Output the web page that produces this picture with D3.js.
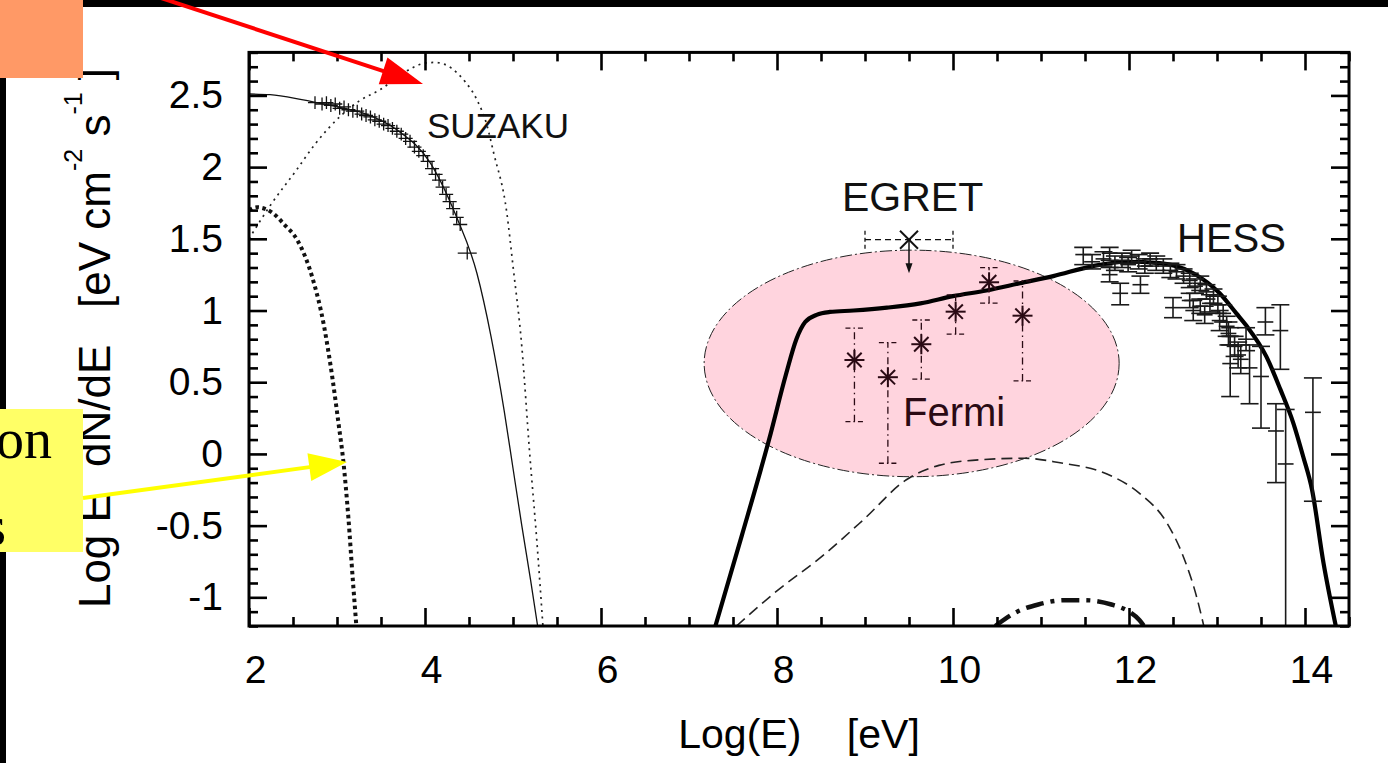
<!DOCTYPE html>
<html><head><meta charset="utf-8">
<script src="https://cdn.jsdelivr.net/npm/d3@7"></script>
<style>
body{margin:0;background:#fff;}
svg{display:block;}
</style>
</head><body>
<svg id="c" width="1388" height="763"></svg>
<script>
// ---------------- DATA ----------------
const xMajorTicks = [2, 4, 6, 8, 10, 12, 14];
const xTickLabels = ["2", "4", "6", "8", "10", "12", "14"];
const yMajorTicks = [-1, -0.5, 0, 0.5, 1, 1.5, 2, 2.5];
const yTickLabels = ["-1", "-0.5", "0", "0.5", "1", "1.5", "2", "2.5"];

// synchrotron model (thin solid)
const synchX = [2.0, 2.24, 2.6, 2.92, 3.3, 3.68, 4.06, 4.36, 4.59, 4.75, 4.9, 5.0, 5.1, 5.2, 5.28];
const synchY = [2.51, 2.505, 2.47, 2.43, 2.376, 2.26, 2.03, 1.65, 1.26, 0.82, 0.3, -0.1, -0.5, -0.88, -1.2];

// thin dotted model
const dotX = [2.0, 2.25, 2.54, 2.75, 3.03, 3.25, 3.49, 3.79, 4.0, 4.12, 4.3, 4.45, 4.59, 4.7, 4.78, 4.93, 5.0, 5.1, 5.19, 5.27, 5.34];
const dotY = [1.5, 1.74, 1.98, 2.16, 2.35, 2.46, 2.54, 2.67, 2.725, 2.73, 2.69, 2.6, 2.47, 2.3, 2.1, 1.68, 1.31, 0.75, 0.0, -0.6, -1.2];

// heavy dotted model
const heavyDotX = [2.0, 2.09, 2.27, 2.4, 2.55, 2.72, 2.85, 2.95, 3.02, 3.07, 3.13, 3.18, 3.22];
const heavyDotY = [1.70, 1.72, 1.68, 1.6, 1.49, 1.23, 0.9, 0.52, 0.2, -0.04, -0.45, -0.88, -1.2];

// total gamma model (thick solid)
const totalX = [7.30, 7.6, 7.91, 8.1, 8.22, 8.32, 8.45, 8.6, 8.87, 9.25, 9.63, 10.0, 10.38, 10.76, 11.14, 11.59, 11.97, 12.35, 12.73, 13.03, 13.22, 13.34, 13.56, 13.72, 13.87, 13.98, 14.08, 14.21, 14.35];
const totalY = [-1.2, -0.57, 0.1, 0.55, 0.8, 0.92, 0.97, 0.99, 1.0, 1.02, 1.05, 1.10, 1.14, 1.19, 1.24, 1.31, 1.34, 1.33, 1.26, 1.12, 0.98, 0.89, 0.68, 0.45, 0.21, -0.02, -0.25, -0.76, -1.2];

// dashed model
const dashX = [7.54, 8.01, 8.5, 8.98, 9.47, 9.84, 10.32, 10.81, 11.2, 11.75, 12.13, 12.43, 12.62, 12.77, 12.85];
const dashY = [-1.2, -0.95, -0.72, -0.46, -0.18, -0.08, -0.04, -0.03, -0.06, -0.14, -0.28, -0.48, -0.72, -1.0, -1.2];

// dash-dot model
const dashDotX = [10.48, 10.73, 10.97, 11.26, 11.5, 11.8, 12.0, 12.12, 12.17];
const dashDotY = [-1.2, -1.1, -1.05, -1.02, -1.02, -1.05, -1.1, -1.16, -1.2];

// SUZAKU data
const suzakuX = [2.75, 2.83, 2.88, 2.93, 2.98, 3.03, 3.08, 3.13, 3.18, 3.23, 3.28, 3.33, 3.38, 3.43, 3.48, 3.53, 3.58, 3.63, 3.68, 3.73, 3.78, 3.83, 3.88, 3.93, 3.98, 4.03, 4.08, 4.12, 4.16, 4.2, 4.24, 4.28, 4.32, 4.36, 4.40, 4.48];
const suzakuY = [2.45, 2.44, 2.45, 2.43, 2.44, 2.41, 2.42, 2.40, 2.39, 2.39, 2.37, 2.36, 2.35, 2.33, 2.32, 2.30, 2.29, 2.27, 2.25, 2.23, 2.20, 2.18, 2.14, 2.11, 2.08, 2.04, 1.99, 1.95, 1.91, 1.86, 1.81, 1.76, 1.71, 1.65, 1.60, 1.40];
const suzakuXErr = 0.08;
const suzakuYErr = 0.045;

// HESS data
const hessX  = [11.48, 11.58, 11.71, 11.78, 11.78, 11.84, 11.90, 11.92, 11.99, 12.03, 12.11, 12.13, 12.18, 12.24, 12.31, 12.39, 12.47, 12.50, 12.54, 12.62, 12.69, 12.69, 12.73, 12.75, 12.81, 12.81, 12.86, 12.88, 12.92, 12.96, 13.01, 13.03, 13.07, 13.11, 13.13, 13.15, 13.15, 13.20, 13.24, 13.27, 13.33, 13.37, 13.50, 13.55, 13.67, 13.72, 13.78, 14.09];
const hessY  = [1.39, 1.34, 1.36, 1.40, 1.25, 1.33, 1.12, 1.35, 1.32, 1.38, 1.34, 1.18, 1.31, 1.36, 1.33, 1.31, 1.28, 1.02, 1.27, 1.24, 1.21, 1.07, 1.00, 1.17, 1.19, 1.03, 0.97, 1.13, 1.05, 1.10, 1.04, 0.93, 0.98, 0.89, 0.84, 0.63, 0.82, 0.75, 0.69, 0.66, 0.80, 0.60, 0.54, 0.92, 0.16, 0.86, -0.07, 0.29];
const hessLo = [1.32, 1.29, 1.31, 1.35, 1.20, 1.28, 1.04, 1.30, 1.27, 1.33, 1.29, 1.12, 1.26, 1.31, 1.28, 1.26, 1.23, 0.95, 1.22, 1.19, 1.16, 1.02, 0.93, 1.12, 1.14, 0.98, 0.91, 1.08, 0.99, 1.05, 0.98, 0.86, 0.92, 0.82, 0.76, 0.40, 0.76, 0.68, 0.60, 0.56, 0.72, 0.35, 0.18, 0.83, -0.20, 0.59, -1.5, -0.33];
const hessHi = [1.44, 1.39, 1.41, 1.44, 1.30, 1.38, 1.19, 1.40, 1.37, 1.42, 1.39, 1.24, 1.36, 1.40, 1.38, 1.36, 1.33, 1.09, 1.32, 1.29, 1.26, 1.12, 1.07, 1.22, 1.24, 1.08, 1.03, 1.18, 1.11, 1.15, 1.10, 1.00, 1.04, 0.96, 0.92, 0.82, 0.88, 0.82, 0.78, 0.76, 0.88, 0.76, 0.75, 1.02, 0.35, 1.04, 0.31, 0.53];
const hessXErr = 0.09;

// Fermi data
const fermiX  = [8.88, 9.26, 9.64, 10.03, 10.41, 10.79];
const fermiY  = [0.655, 0.535, 0.765, 0.992, 1.197, 0.964];
const fermiLo = [0.225, -0.065, 0.521, 0.835, 1.051, 0.509];
const fermiHi = [0.877, 0.776, 0.934, 1.109, 1.299, 1.206];
// Fermi highlight region (data units)
const fermiRegion = {cx: 9.53, cy: 0.631, rx: 2.358, ry: 0.79};

// EGRET upper limit
const egretX = [9.5];
const egretY = [1.494];
const egretXLo = [9.0];
const egretXHi = [10.0];
const egretArrowTo = [1.26];

// ---------------- CHART ----------------
const SANS = '"Liberation Sans",Arial,Helvetica,sans-serif';
const SERIF = '"Liberation Serif","Times New Roman",serif';
const x = d3.scaleLinear().domain([2, 14.5]).range([249, 1349]);
const y = d3.scaleLinear().domain([-1.2, 2.8]).range([626, 52.4]);
const svg = d3.select("#c").style("font-family", SANS);
svg.append("rect").attr("width",1388).attr("height",763).attr("fill","#fff");

const defs = svg.append("defs");
defs.append("clipPath").attr("id","clip").append("rect")
  .attr("x", x(2)).attr("y", y(2.8)).attr("width", x(14.5)-x(2)).attr("height", y(-1.2)-y(2.8));

const plot = svg.append("g").attr("clip-path","url(#clip)");

// Fermi ellipse
plot.append("ellipse")
  .attr("cx", x(fermiRegion.cx)).attr("cy", y(fermiRegion.cy))
  .attr("rx", x(fermiRegion.cx + fermiRegion.rx) - x(fermiRegion.cx))
  .attr("ry", y(fermiRegion.cy) - y(fermiRegion.cy + fermiRegion.ry))
  .attr("fill","#ffd4de").attr("stroke","#222").attr("stroke-width",1)
  .attr("stroke-dasharray","12,3,2,3");

function pathOf(xs, ys){
  return d3.line().x((d,i)=>x(xs[i])).y((d,i)=>y(ys[i])).curve(d3.curveMonotoneX)(xs);
}
plot.append("path").attr("d", pathOf(synchX, synchY)).attr("fill","none").attr("stroke","#111").attr("stroke-width",1.3);
plot.append("path").attr("d", pathOf(dotX, dotY)).attr("fill","none").attr("stroke","#222").attr("stroke-width",1.7).attr("stroke-dasharray","2,4.5");
plot.append("path").attr("d", pathOf(heavyDotX, heavyDotY)).attr("fill","none").attr("stroke","#111").attr("stroke-width",4).attr("stroke-dasharray","3.5,3.5");
plot.append("path").attr("d", pathOf(dashX, dashY)).attr("fill","none").attr("stroke","#222").attr("stroke-width",1.6).attr("stroke-dasharray","11,6");
plot.append("path").attr("d", pathOf(dashDotX, dashDotY)).attr("fill","none").attr("stroke","#111").attr("stroke-width",4.5).attr("stroke-dasharray","18,7,4,7");
plot.append("path").attr("d", pathOf(totalX, totalY)).attr("fill","none").attr("stroke","#000").attr("stroke-width",4.2);

// SUZAKU crosses
const sz = plot.append("g").attr("stroke","#111").attr("stroke-width",1.3);
suzakuX.forEach((vx,i)=>{
  const xe = (i === suzakuX.length-1) ? suzakuXErr*1.35 : suzakuXErr;
  sz.append("line").attr("x1",x(vx-xe)).attr("x2",x(vx+xe)).attr("y1",y(suzakuY[i])).attr("y2",y(suzakuY[i]));
  sz.append("line").attr("x1",x(vx)).attr("x2",x(vx)).attr("y1",y(suzakuY[i]-suzakuYErr)).attr("y2",y(suzakuY[i]+suzakuYErr));
});

// HESS error bars
const hs = plot.append("g").attr("stroke","#1a1a1a").attr("stroke-width",1.6);
hessX.forEach((vx,i)=>{
  const cx = x(vx);
  hs.append("line").attr("x1",x(vx-hessXErr)).attr("x2",x(vx+hessXErr)).attr("y1",y(hessY[i])).attr("y2",y(hessY[i]));
  hs.append("line").attr("x1",cx).attr("x2",cx).attr("y1",y(hessLo[i])).attr("y2",y(hessHi[i]));
  hs.append("line").attr("x1",cx-9).attr("x2",cx+9).attr("y1",y(hessLo[i])).attr("y2",y(hessLo[i]));
  hs.append("line").attr("x1",cx-9).attr("x2",cx+9).attr("y1",y(hessHi[i])).attr("y2",y(hessHi[i]));
});

// Fermi points
const fm = plot.append("g").attr("stroke","#2a0a14");
fermiX.forEach((vx,i)=>{
  const cx = x(vx), cy = y(fermiY[i]);
  fm.append("line").attr("x1",cx).attr("x2",cx).attr("y1",y(fermiLo[i])).attr("y2",y(fermiHi[i]))
    .attr("stroke-width",1.3).attr("stroke-dasharray","7,4,1.5,4");
  [fermiLo[i], fermiHi[i]].forEach(v=>{
    fm.append("line").attr("x1",cx-9).attr("x2",cx+9).attr("y1",y(v)).attr("y2",y(v))
      .attr("stroke-width",1.3).attr("stroke-dasharray","5,3,1.5,3");
  });
  const r = 10, r2 = r*0.72;
  const g = fm.append("g").attr("stroke-width",2);
  g.append("line").attr("x1",cx-r).attr("x2",cx+r).attr("y1",cy).attr("y2",cy);
  g.append("line").attr("x1",cx).attr("x2",cx).attr("y1",cy-r).attr("y2",cy+r);
  g.append("line").attr("x1",cx-r2).attr("x2",cx+r2).attr("y1",cy-r2).attr("y2",cy+r2);
  g.append("line").attr("x1",cx-r2).attr("x2",cx+r2).attr("y1",cy+r2).attr("y2",cy-r2);
});

// EGRET
const eg = plot.append("g").attr("stroke","#111");
egretX.forEach((vx,i)=>{
  const cx = x(vx), cy = y(egretY[i]);
  eg.append("line").attr("x1",x(egretXLo[i])).attr("x2",x(egretXHi[i])).attr("y1",cy).attr("y2",cy)
    .attr("stroke-width",1.3).attr("stroke-dasharray","6,4");
  [egretXLo[i], egretXHi[i]].forEach(v=>{
    eg.append("line").attr("x1",x(v)).attr("x2",x(v)).attr("y1",cy-9).attr("y2",cy+9).attr("stroke-width",1.3).attr("stroke-dasharray","4,3");
  });
  const r = 9;
  eg.append("line").attr("x1",cx-r).attr("x2",cx+r).attr("y1",cy-r).attr("y2",cy+r).attr("stroke-width",2);
  eg.append("line").attr("x1",cx-r).attr("x2",cx+r).attr("y1",cy+r).attr("y2",cy-r).attr("stroke-width",2);
  const ya = y(egretArrowTo[i]);
  eg.append("line").attr("x1",cx).attr("x2",cx).attr("y1",cy).attr("y2",ya-8).attr("stroke-width",1.5);
  eg.append("path").attr("d",`M${cx-3.5},${ya-10}L${cx+3.5},${ya-10}L${cx},${ya}Z`).attr("fill","#111").attr("stroke","none");
});

// Axes (ticks inward, mirrored)
function styleAxis(g){
  g.select(".domain").remove();
  g.selectAll(".tick line").attr("stroke","#000").attr("stroke-width",2.6);
  g.attr("font-family", SANS).attr("font-size", 39);
  g.selectAll("text").attr("fill","#000");
}
const xMinor = d3.range(2, 14.51, 0.5).filter(v => Math.abs(v/2 - Math.round(v/2)) > 1e-6);
const yMinor = d3.range(-1.2, 2.801, 0.1).map(v=>+v.toFixed(1)).filter(v => Math.abs(v*2 - Math.round(v*2)) > 1e-6);

svg.append("g").attr("transform",`translate(0,${y(-1.2)})`)
  .call(d3.axisBottom(x).tickValues(xMinor).tickSize(-9).tickFormat("")).call(styleAxis);
svg.append("g").attr("transform",`translate(0,${y(-1.2)})`)
  .call(d3.axisBottom(x).tickValues(xMajorTicks).tickSize(-18).tickPadding(29).tickFormat((d,i)=>xTickLabels[i]))
  .call(styleAxis).call(g=>g.selectAll("text").attr("dx",6));
svg.append("g").attr("transform",`translate(0,${y(2.8)})`)
  .call(d3.axisTop(x).tickValues(xMinor).tickSize(-9).tickFormat("")).call(styleAxis);
svg.append("g").attr("transform",`translate(0,${y(2.8)})`)
  .call(d3.axisTop(x).tickValues(xMajorTicks).tickSize(-18).tickFormat("")).call(styleAxis);

svg.append("g").attr("transform",`translate(${x(2)},0)`)
  .call(d3.axisLeft(y).tickValues(yMinor).tickSize(-9).tickFormat("")).call(styleAxis);
svg.append("g").attr("transform",`translate(${x(2)},0)`)
  .call(d3.axisLeft(y).tickValues(yMajorTicks).tickSize(-18).tickPadding(26).tickFormat((d,i)=>yTickLabels[i]))
  .call(styleAxis);
svg.append("g").attr("transform",`translate(${x(14.5)},0)`)
  .call(d3.axisRight(y).tickValues(yMinor).tickSize(-9).tickFormat("")).call(styleAxis);
svg.append("g").attr("transform",`translate(${x(14.5)},0)`)
  .call(d3.axisRight(y).tickValues(yMajorTicks).tickSize(-18).tickFormat("")).call(styleAxis);

// frame
svg.append("rect").attr("x",x(2)).attr("y",y(2.8)).attr("width",x(14.5)-x(2)).attr("height",y(-1.2)-y(2.8))
  .attr("fill","none").attr("stroke","#000").attr("stroke-width",3);

// labels inside the plot
svg.append("text").attr("x",427).attr("y",138).attr("font-size",35).attr("fill","#111").text("SUZAKU");
svg.append("text").attr("x",842).attr("y",211).attr("font-size",41).attr("fill","#111").text("EGRET");
svg.append("text").attr("x",1177).attr("y",252).attr("font-size",40).attr("fill","#111").text("HESS");
svg.append("text").attr("x",903).attr("y",426).attr("font-size",40).attr("fill","#2a0a14").text("Fermi");

// axis titles
svg.append("text").attr("x",799).attr("y",748).attr("text-anchor","middle").attr("font-size",41)
  .style("white-space","pre").text("Log(E)    [eV]");
const yl = svg.append("text").attr("transform","translate(110,338) rotate(-90)")
  .attr("text-anchor","middle").attr("font-size",44).style("white-space","pre");
yl.append("tspan").text("Log E");
yl.append("tspan").attr("dy",-28).attr("font-size",25).text("2");
yl.append("tspan").attr("dy",28).text(" dN/dE   [eV cm");
yl.append("tspan").attr("dy",-28).attr("font-size",25).text("-2");
yl.append("tspan").attr("dy",28).text(" s");
yl.append("tspan").attr("dy",-28).attr("font-size",25).text("-1");
yl.append("tspan").attr("dy",28).text(" ]");

// ---------------- SLIDE OVERLAYS ----------------
svg.append("rect").attr("x",0).attr("y",0).attr("width",1388).attr("height",7).attr("fill","#000");
svg.append("rect").attr("x",0).attr("y",0).attr("width",6).attr("height",763).attr("fill","#000");
svg.append("rect").attr("x",0).attr("y",0).attr("width",83).attr("height",78).attr("fill","#ff9966");
svg.append("rect").attr("x",0).attr("y",409).attr("width",83).attr("height",143).attr("fill","#ffff66");
svg.append("text").attr("x",52).attr("y",458).attr("text-anchor","end").attr("font-size",56)
  .style("font-family",SERIF).attr("fill","#000").text("on");
svg.append("text").attr("x",6).attr("y",545).attr("text-anchor","end").attr("font-size",56)
  .style("font-family",SERIF).attr("fill","#000").text("s");

function arrow(x1,y1,x2,y2,color,len,half){
  const dx=x2-x1, dy=y2-y1, L=Math.hypot(dx,dy), ux=dx/L, uy=dy/L;
  const bx=x2-ux*len, by=y2-uy*len;
  svg.append("line").attr("x1",x1).attr("y1",y1).attr("x2",bx+ux*2).attr("y2",by+uy*2)
    .attr("stroke",color).attr("stroke-width",4);
  svg.append("path").attr("d",`M${x2},${y2}L${bx-uy*half},${by+ux*half}L${bx+uy*half},${by-ux*half}Z`).attr("fill",color);
}
arrow(150,-5.6,423,84,"#ff0000",42,14);
arrow(83,498,347,462,"#ffff00",38,14);
</script>
</body></html>
